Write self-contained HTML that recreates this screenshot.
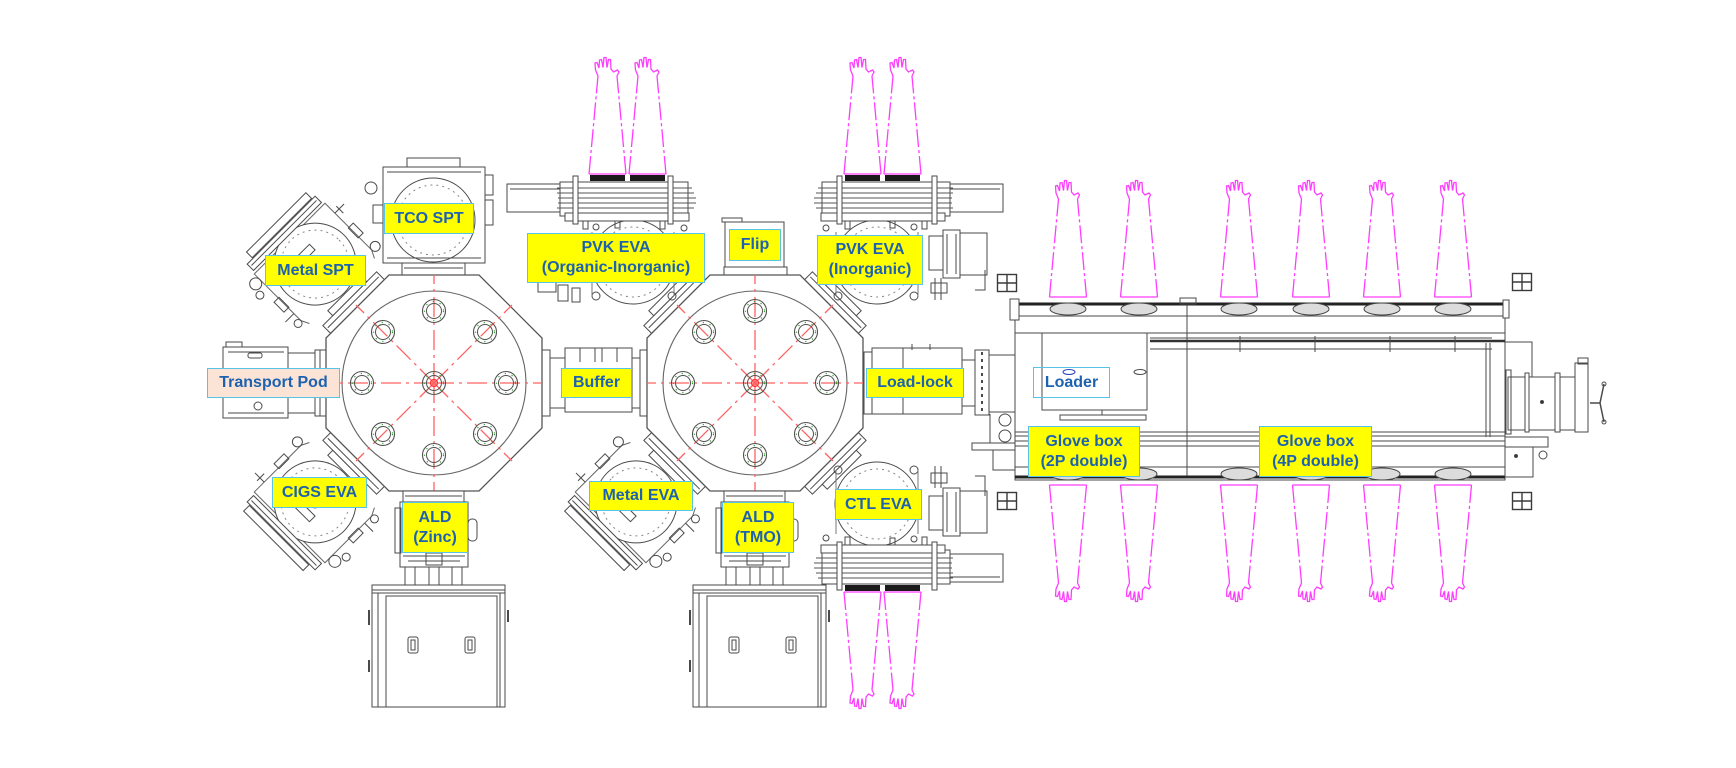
<!DOCTYPE html>
<html><head><meta charset="utf-8"><title>Cluster tool layout</title>
<style>
html,body{margin:0;padding:0;background:#fff;}
body{width:1736px;height:768px;overflow:hidden;position:relative;font-family:"Liberation Sans",Arial,sans-serif;}
svg{position:absolute;left:0;top:0;}
.lb{position:absolute;box-sizing:border-box;background:#ffff00;border:1.5px solid #57c3e6;color:#1d62b0;font-weight:bold;font-size:16px;line-height:20px;text-align:center;display:flex;align-items:center;justify-content:center;white-space:nowrap;}
</style></head><body>
<svg width="1736" height="768" viewBox="0 0 1736 768">
<defs>
<g id="glove" fill="none" stroke="#ff3cff" stroke-width="1.3">
 <path d="M-18.5,0H18.5"/>
 <path d="M-18.5,0L-9.5,-98M18.5,0L9.5,-98" stroke-dasharray="18 3 3 3"/>
 <path d="M-9.5,-98L-12,-104L-12.5,-111L-10.5,-111.5L-8.5,-106L-8,-114L-6,-114.5L-4.5,-106.5L-3.5,-116.5L-1.5,-116.5L-0.5,-106.5L1,-114.5L3,-114.5L3.5,-105L6,-102L10,-104L11.5,-102L9.5,-98"/>
</g>
<g id="port" fill="none">
 <circle r="11.5" stroke="#505050" stroke-width="1.1"/>
 <circle r="7.5" stroke="#505050" stroke-width="1"/>
 <circle r="9.5" stroke="#2c9a2c" stroke-width="1.2" stroke-dasharray="1.2 6"/>
</g>
<g id="win" fill="none" stroke="#3a3a3a" stroke-width="1.4">
 <rect x="0.5" y="0.5" width="19" height="17"/>
 <path d="M10,0.5V17.5M0.5,9H19.5"/>
</g>
<g id="oct">
 <polygon points="-45,-108 45,-108 108,-45 108,45 45,108 -45,108 -108,45 -108,-45" fill="#fff" stroke="#555" stroke-width="1.3"/>
 <circle r="92" fill="none" stroke="#666" stroke-width="1.1"/>
 <path d="M0,0H108M0,0H-108M0,0V108M0,0V-108M0,0L78,78M0,0L-78,78M0,0L78,-78M0,0L-78,-78" stroke="#ff6262" stroke-width="1.3" stroke-dasharray="20 5 3 5" fill="none"/>
 <use href="#port"/>
 <use href="#port" x="72"/><use href="#port" x="-72"/><use href="#port" y="72"/><use href="#port" y="-72"/>
 <use href="#port" x="51" y="51"/><use href="#port" x="-51" y="51"/><use href="#port" x="51" y="-51"/><use href="#port" x="-51" y="-51"/>
 <circle r="3.5" fill="none" stroke="#ff3030" stroke-width="1.2"/>
</g>
<g id="dfl" fill="none" stroke="#4a4a4a" stroke-width="1">
 <rect x="-38" y="-11" width="76" height="11" fill="#fff"/>
 <path d="M-36,-6H36"/>
 <rect x="-24" y="-18" width="48" height="7" fill="#fff"/>
</g>
<g id="rch" fill="none" stroke="#4a4a4a" stroke-width="1">
 <use href="#dfl"/>
 <path d="M-46,-22L-50,-30V-96H50V-30L46,-22" stroke="#666"/>
 <circle cx="0" cy="-60" r="41" fill="#fff"/>
 <circle cx="0" cy="-60" r="34" stroke="#888" stroke-dasharray="2 4"/>
 <circle cx="0" cy="-60" r="6"/>
 <rect x="-10" y="-78" width="20" height="8"/>
 <rect x="-48" y="-108" width="96" height="9" fill="#fff"/>
 <path d="M-46,-104H46"/>
 <rect x="-40" y="-117" width="84" height="8" fill="#fff"/>
 <rect x="-56" y="-62" width="7" height="14"/>
 <rect x="49" y="-62" width="7" height="14"/>
 <circle cx="-56" cy="-88" r="6"/>
 <circle cx="-61" cy="-77" r="4"/>
 <circle cx="55" cy="-30" r="5"/>
 <circle cx="-54" cy="-30" r="4"/>
 <path d="M-50,-40H-62M50,-82H63M56,-86V-76"/>
</g>
<g id="eva" fill="none" stroke="#4a4a4a" stroke-width="1">
 <circle cx="633" cy="262" r="42" fill="#fff"/>
 <circle cx="633" cy="262" r="35" stroke="#888" stroke-dasharray="2 4"/>
 <circle cx="633" cy="262" r="7"/>
 <rect x="507" y="184" width="66" height="28" fill="#fff"/>
 <path d="M510,189H570"/>
 <rect x="560" y="182" width="128" height="34" fill="#fff"/>
 <path d="M557,188H692M557,193H694M558,198H696M558,203H696M557,208H694" stroke="#555"/>
 <rect x="565" y="213" width="124" height="8" fill="#fff"/>
 <rect x="573" y="176" width="5" height="48" fill="#fff"/>
 <rect x="668" y="176" width="5" height="48" fill="#fff"/>
 <rect x="590" y="175" width="35" height="6" fill="#1a1a1a" stroke="none"/>
 <rect x="630" y="175" width="35" height="6" fill="#1a1a1a" stroke="none"/>
 <rect x="583" y="221" width="5" height="8"/>
 <rect x="615" y="221" width="5" height="7"/>
 <rect x="660" y="221" width="5" height="8"/>
 <circle cx="596" cy="227" r="3"/>
 <circle cx="684" cy="228" r="3"/>
 <circle cx="596" cy="296" r="4"/>
 <circle cx="672" cy="296" r="4"/>
 <path d="M592,232V296M674,232V296" stroke="#777"/>
</g>
<g id="gv" fill="none" stroke="#4a4a4a" stroke-width="1">
 <rect x="929" y="236" width="14" height="34" fill="#fff"/>
 <rect x="943" y="230" width="17" height="48" fill="#fff"/>
 <path d="M947,234V274M956,234V274"/>
 <rect x="960" y="233" width="27" height="42" fill="#fff"/>
 <path d="M935,278V300M941,278V300M985,270V290H975"/>
 <rect x="931" y="283" width="16" height="10"/>
</g>
<g id="ald" fill="none" stroke="#4a4a4a" stroke-width="1">
 <rect x="403" y="491" width="61" height="11" fill="#fff"/>
 <path d="M405,496H462"/>
 <rect x="400" y="502" width="68" height="65" fill="#fff"/>
 <rect x="395" y="508" width="6" height="45"/>
 <rect x="468" y="519" width="9" height="22" rx="4"/>
 <path d="M403,556H465M408,561H460"/>
 <rect x="426" y="553" width="16" height="12"/>
 <rect x="405" y="567" width="10" height="18"/>
 <rect x="429" y="567" width="10" height="18"/>
 <rect x="452" y="567" width="10" height="18"/>
 <rect x="372" y="585" width="133" height="122" fill="#fff"/>
 <path d="M372,590H505M372,593H505M378,593V707M500,593V707"/>
 <rect x="386" y="596" width="111" height="111"/>
 <rect x="408" y="637" width="10" height="16" rx="2"/>
 <rect x="411" y="640" width="4" height="10"/>
 <rect x="465" y="637" width="10" height="16" rx="2"/>
 <rect x="468" y="640" width="4" height="10"/>
 <path d="M369,610V625M369,660V672M508,610V622" stroke-width="2"/>
</g>
</defs>

<!-- Transport pod -->
<g fill="none" stroke="#4a4a4a" stroke-width="1">
 <rect x="223" y="347" width="65" height="71" fill="#fff"/>
 <rect x="226" y="342" width="16" height="5"/>
 <rect x="288" y="353" width="28" height="60" fill="#fff"/>
 <rect x="315" y="350" width="11" height="66" fill="#fff"/>
 <path d="M320,350V416M228,352H284M228,413H284"/>
 <circle cx="258" cy="406" r="4"/>
 <rect x="248" y="353" width="14" height="5" rx="2"/>
</g>

<!-- TCO SPT -->
<g fill="none" stroke="#4a4a4a" stroke-width="1">
 <rect x="383" y="167" width="102" height="96" fill="#fff"/>
 <rect x="407" y="158" width="53" height="9" fill="#fff"/>
 <circle cx="433" cy="220" r="42" fill="#fff"/>
 <circle cx="433" cy="220" r="35" stroke="#888" stroke-dasharray="2 4"/>
 <rect x="485" y="175" width="8" height="20"/>
 <rect x="485" y="200" width="8" height="25"/>
 <circle cx="371" cy="188" r="6"/>
 <rect x="373" y="205" width="10" height="18"/>
 <path d="M387,172H481M387,258H481"/>
 <rect x="402" y="263" width="63" height="12" fill="#fff"/>
 <path d="M404,268H463"/>
</g>

<!-- Rotated chambers -->
<use href="#rch" transform="translate(357.5,306.5) rotate(-45)"/>
<use href="#rch" transform="translate(357.5,459.5) rotate(-135)"/>
<use href="#rch" transform="translate(678.5,459.5) rotate(-135)"/>
<use href="#dfl" transform="translate(678.5,306.5) rotate(-45)"/>
<use href="#dfl" transform="translate(831.5,306.5) rotate(45)"/>
<use href="#dfl" transform="translate(831.5,459.5) rotate(135)"/>

<!-- EVA modules -->
<use href="#eva"/>
<use href="#eva" transform="translate(1510,0) scale(-1,1)"/>
<use href="#eva" transform="translate(1510,766) scale(-1,-1)"/>
<use href="#gv"/>
<use href="#gv" transform="translate(0,766) scale(1,-1)"/>
<g fill="none" stroke="#4a4a4a"><rect x="538" y="282" width="18" height="10"/><rect x="558" y="285" width="10" height="16"/><rect x="572" y="288" width="8" height="14"/></g>

<!-- Flip -->
<g fill="none" stroke="#4a4a4a" stroke-width="1">
 <rect x="725" y="222" width="59" height="45" fill="#fff"/>
 <rect x="722" y="218" width="20" height="4"/>
 <rect x="724" y="267" width="63" height="8" fill="#fff"/>
</g>

<!-- Buffer -->
<g fill="none" stroke="#4a4a4a" stroke-width="1">
 <rect x="542" y="350" width="8" height="66" fill="#fff"/>
 <rect x="550" y="358" width="16" height="50" fill="#fff"/>
 <rect x="565" y="348" width="67" height="64" fill="#fff"/>
 <path d="M580,348V362M595,348V362M602,348V362M617,348V362"/>
 <rect x="632" y="358" width="8" height="50" fill="#fff"/>
 <rect x="640" y="350" width="8" height="66" fill="#fff"/>
</g>

<!-- Load-lock -->
<g fill="none" stroke="#4a4a4a" stroke-width="1">
 <rect x="864" y="352" width="8" height="62" fill="#fff"/>
 <rect x="872" y="348" width="90" height="66" fill="#fff"/>
 <path d="M903,348V414M912,344V350M930,344V350"/>
 <rect x="962" y="360" width="13" height="46" fill="#fff"/>
 <rect x="975" y="350" width="14" height="65" fill="#fff"/>
 <path d="M982,352V413" stroke-dasharray="3 4" stroke-width="2"/>
 <rect x="989" y="355" width="26" height="57" fill="#fff"/>
 <rect x="972" y="443" width="51" height="7"/>
 <rect x="993" y="450" width="30" height="20"/>
 <circle cx="1005" cy="420" r="6"/><circle cx="1005" cy="436" r="6"/>
 <path d="M990,414V443M1016,380V440"/>
</g>

<!-- Octagons -->
<use href="#oct" x="434" y="383"/>
<use href="#oct" x="755" y="383"/>

<!-- ALD -->
<use href="#ald"/>
<use href="#ald" x="321"/>

<!-- Glove box -->
<g fill="none" stroke="#4a4a4a" stroke-width="1">
 <rect x="1015" y="303" width="490" height="177" fill="#fff"/>
 <path d="M1012,304H1508" stroke="#222" stroke-width="3"/>
 <path d="M1015,316H1505M1015,333H1505M1187,305V478"/>
 <path d="M1150,338H1492M1150,349H1492"/>
 <path d="M1150,341H1505" stroke="#333" stroke-width="2.5"/>
 <path d="M1240,336V352M1315,336V352M1390,336V352M1455,336V352"/>
 <path d="M1490,343V437M1486,343V437"/>
 <rect x="1042" y="333" width="105" height="77"/>
 <ellipse cx="1069" cy="372" rx="6" ry="2.5" stroke="#2a3fb0"/>
 <ellipse cx="1140" cy="372" rx="6" ry="2.5"/>
 <path d="M1102,410V415"/>
 <rect x="1060" y="415" width="86" height="5"/>
 <path d="M1015,432H1505M1015,436H1505M1015,441H1505M1015,446H1505M1015,467H1505"/>
 <path d="M1015,477H1505" stroke="#222" stroke-width="3"/>
 <rect x="1010" y="299" width="9" height="21" fill="#fff"/>
 <rect x="1180" y="298" width="16" height="6"/>
 <g fill="#dcdcdc" stroke="#444">
  <ellipse cx="1068" cy="309" rx="18" ry="6"/><ellipse cx="1139" cy="309" rx="18" ry="6"/>
  <ellipse cx="1239" cy="309" rx="18" ry="6"/><ellipse cx="1311" cy="309" rx="18" ry="6"/>
  <ellipse cx="1382" cy="309" rx="18" ry="6"/><ellipse cx="1453" cy="309" rx="18" ry="6"/>
  <ellipse cx="1068" cy="474" rx="18" ry="6"/><ellipse cx="1139" cy="474" rx="18" ry="6"/>
  <ellipse cx="1239" cy="474" rx="18" ry="6"/><ellipse cx="1311" cy="474" rx="18" ry="6"/>
  <ellipse cx="1382" cy="474" rx="18" ry="6"/><ellipse cx="1453" cy="474" rx="18" ry="6"/>
 </g>
 <!-- right end -->
 <rect x="1503" y="300" width="6" height="18" fill="#fff"/>
 <path d="M1505,342H1532V377"/>
 <rect x="1508" y="377" width="69" height="53" fill="#fff"/>
 <rect x="1506" y="370" width="5" height="64"/>
 <rect x="1525" y="373" width="4" height="59" fill="#fff"/>
 <rect x="1555" y="373" width="5" height="59" fill="#fff"/>
 <circle cx="1542" cy="402" r="1.5" fill="#333"/>
 <rect x="1575" y="363" width="13" height="69" fill="#fff"/>
 <rect x="1578" y="358" width="10" height="6"/>
 <path d="M1590,403H1600M1600,403L1604,384M1600,403L1604,422" stroke-width="1.5"/>
 <circle cx="1604" cy="384" r="2"/><circle cx="1604" cy="422" r="2"/>
 <rect x="1505" y="437" width="43" height="10" fill="#fff"/>
 <rect x="1505" y="447" width="28" height="30" fill="#fff"/>
 <circle cx="1516" cy="456" r="1.5" fill="#333"/>
 <circle cx="1543" cy="455" r="4"/>
</g>

<!-- Windows -->
<use href="#win" x="997" y="274"/>
<use href="#win" x="997" y="492"/>
<use href="#win" x="1512" y="273"/>
<use href="#win" x="1512" y="492"/>

<!-- Gloves -->
<use href="#glove" transform="translate(607.5,174)"/>
<use href="#glove" transform="translate(647.5,174)"/>
<use href="#glove" transform="translate(862.5,174)"/>
<use href="#glove" transform="translate(902.5,174)"/>
<use href="#glove" transform="translate(862.5,592) scale(1,-1)"/>
<use href="#glove" transform="translate(902.5,592) scale(1,-1)"/>
<use href="#glove" transform="translate(1068,297)"/>
<use href="#glove" transform="translate(1139,297)"/>
<use href="#glove" transform="translate(1239,297)"/>
<use href="#glove" transform="translate(1311,297)"/>
<use href="#glove" transform="translate(1382,297)"/>
<use href="#glove" transform="translate(1453,297)"/>
<use href="#glove" transform="translate(1068,485) scale(1,-1)"/>
<use href="#glove" transform="translate(1139,485) scale(1,-1)"/>
<use href="#glove" transform="translate(1239,485) scale(1,-1)"/>
<use href="#glove" transform="translate(1311,485) scale(1,-1)"/>
<use href="#glove" transform="translate(1382,485) scale(1,-1)"/>
<use href="#glove" transform="translate(1453,485) scale(1,-1)"/>
</svg>

<div class="lb" style="left:384px;top:203px;width:90px;height:31px;">TCO SPT</div>
<div class="lb" style="left:265px;top:255px;width:101px;height:31px;">Metal SPT</div>
<div class="lb" style="left:207px;top:368px;width:133px;height:30px;background:#fbe4d6;">Transport Pod</div>
<div class="lb" style="left:272px;top:477px;width:95px;height:31px;">CIGS EVA</div>
<div class="lb" style="left:402px;top:502px;width:66px;height:51px;">ALD<br>(Zinc)</div>
<div class="lb" style="left:561px;top:368px;width:71px;height:30px;">Buffer</div>
<div class="lb" style="left:527px;top:233px;width:178px;height:50px;">PVK EVA<br>(Organic-Inorganic)</div>
<div class="lb" style="left:729px;top:229px;width:52px;height:32px;">Flip</div>
<div class="lb" style="left:817px;top:235px;width:106px;height:50px;">PVK EVA<br>(Inorganic)</div>
<div class="lb" style="left:866px;top:368px;width:98px;height:30px;">Load-lock</div>
<div class="lb" style="left:1033px;top:367px;width:77px;height:31px;background:transparent;">Loader</div>
<div class="lb" style="left:589px;top:481px;width:104px;height:30px;">Metal EVA</div>
<div class="lb" style="left:722px;top:502px;width:72px;height:51px;">ALD<br>(TMO)</div>
<div class="lb" style="left:835px;top:489px;width:87px;height:31px;">CTL EVA</div>
<div class="lb" style="left:1028px;top:426px;width:112px;height:51px;">Glove box<br>(2P double)</div>
<div class="lb" style="left:1259px;top:426px;width:113px;height:51px;">Glove box<br>(4P double)</div>
</body></html>
